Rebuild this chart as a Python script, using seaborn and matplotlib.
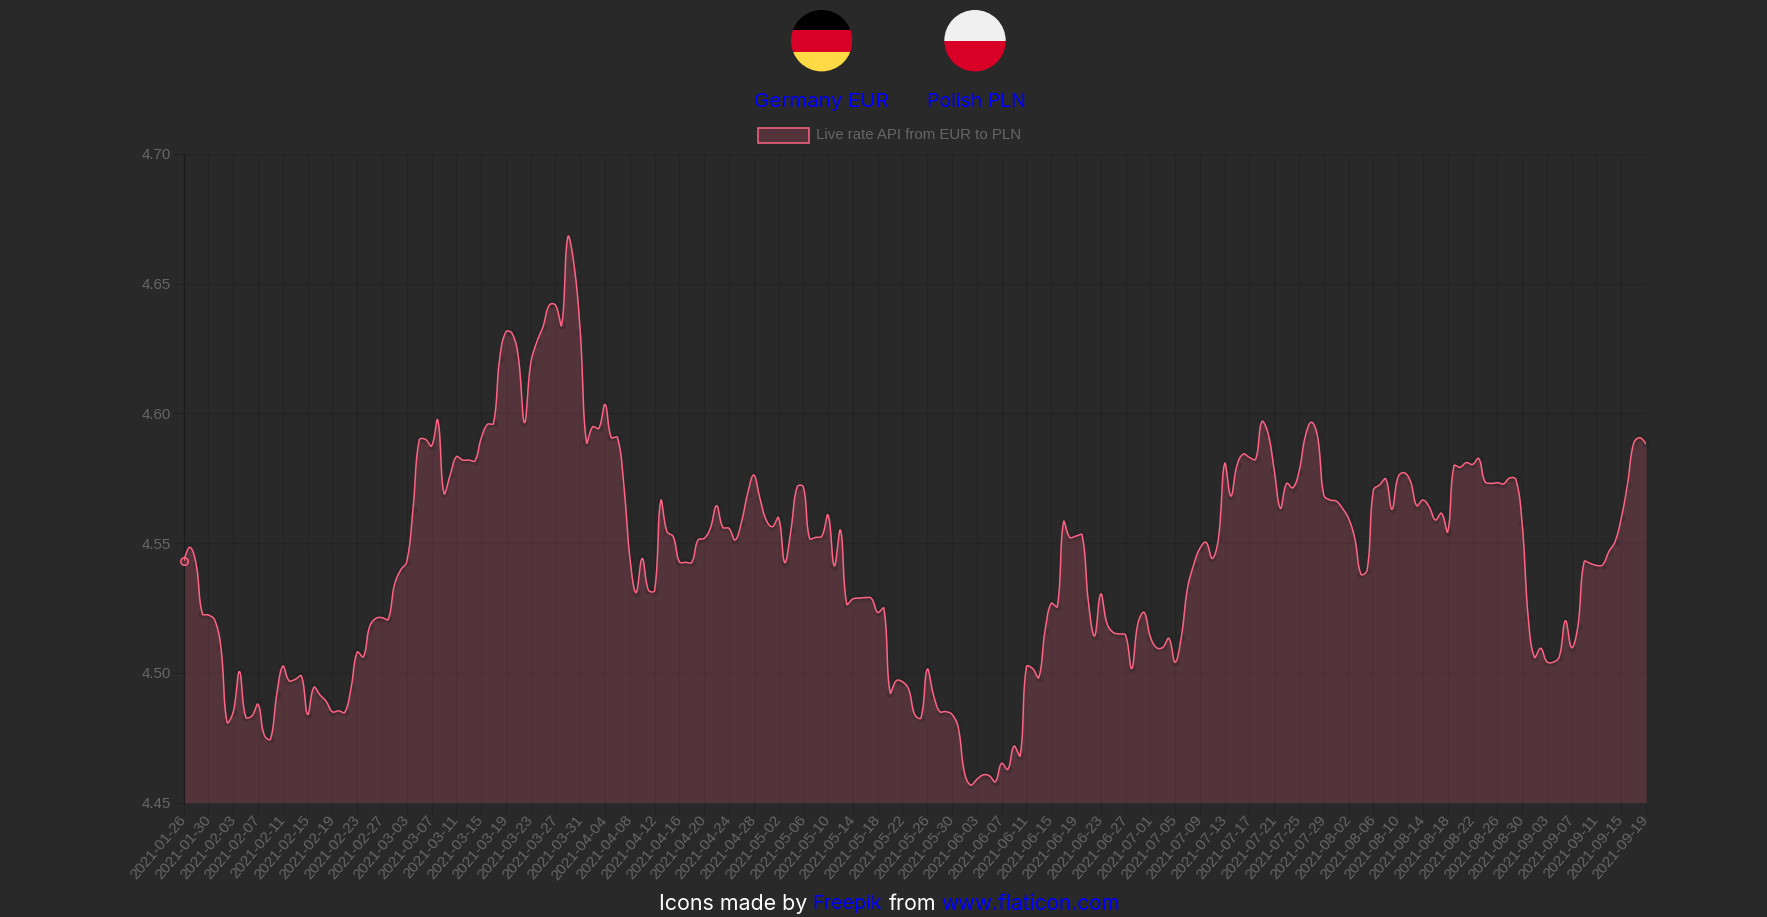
import numpy as np
import pandas as pd
import matplotlib.pyplot as plt
from matplotlib.patches import Circle, Rectangle
from matplotlib.transforms import ScaledTranslation
import seaborn as sns

# daily EUR to PLN rate (2021-01-26 .. 2021-09-19)
rates = [
    4.5431, 4.5484, 4.5420, 4.5228, 4.5223, 4.5204, 4.5100, 4.4810, 4.4850, 4.5005,
    4.4830, 4.4834, 4.4879, 4.4760, 4.4745, 4.4915, 4.5026, 4.4970, 4.4975, 4.4988,
    4.4840, 4.4944, 4.4915, 4.4890, 4.4850, 4.4854, 4.4848, 4.4940, 4.5080, 4.5062,
    4.5178, 4.5210, 4.5213, 4.5206, 4.5338, 4.5396, 4.5428, 4.5627, 4.5897, 4.5900,
    4.5874, 4.5974, 4.5692, 4.5762, 4.5833, 4.5820, 4.5820, 4.5817, 4.5903, 4.5957,
    4.5961, 4.6212, 4.6314, 4.6308, 4.6218, 4.5964, 4.6192, 4.6276, 4.6334, 4.6417,
    4.6417, 4.6340, 4.6680, 4.6571, 4.6314, 4.5888, 4.5948, 4.5942, 4.6034, 4.5907,
    4.5907, 4.5733, 4.5445, 4.5309, 4.5441, 4.5319, 4.5317, 4.5663, 4.5544, 4.5525,
    4.5428, 4.5426, 4.5426, 4.5512, 4.5518, 4.5557, 4.5644, 4.5561, 4.5557, 4.5512,
    4.5579, 4.5689, 4.5762, 4.5672, 4.5589, 4.5563, 4.5598, 4.5425, 4.5550, 4.5717,
    4.5717, 4.5518, 4.5522, 4.5527, 4.5608, 4.5412, 4.5550, 4.5265, 4.5285, 4.5288,
    4.5290, 4.5287, 4.5233, 4.5249, 4.4924, 4.4970, 4.4966, 4.4937, 4.4838, 4.4827,
    4.5014, 4.4915, 4.4851, 4.4851, 4.4840, 4.4790, 4.4616, 4.4568, 4.4590, 4.4607,
    4.4604, 4.4581, 4.4652, 4.4628, 4.4718, 4.4681, 4.5024, 4.5017, 4.4982, 4.5161,
    4.5268, 4.5255, 4.5582, 4.5522, 4.5527, 4.5531, 4.5274, 4.5142, 4.5304, 4.5191,
    4.5156, 4.5150, 4.5146, 4.5017, 4.5191, 4.5233, 4.5139, 4.5097, 4.5098, 4.5133,
    4.5041, 4.5137, 4.5326, 4.5416, 4.5480, 4.5503, 4.5441, 4.5518, 4.5807, 4.5681,
    4.5801, 4.5843, 4.5830, 4.5823, 4.5968, 4.5923, 4.5781, 4.5634, 4.5730, 4.5713,
    4.5775, 4.5910, 4.5966, 4.5910, 4.5685, 4.5666, 4.5662, 4.5634, 4.5595, 4.5518,
    4.5380, 4.5396, 4.5704, 4.5724, 4.5747, 4.5630, 4.5756, 4.5771, 4.5737, 4.5644,
    4.5666, 4.5640, 4.5589, 4.5615, 4.5544, 4.5798, 4.5792, 4.5810, 4.5803, 4.5826,
    4.5737, 4.5730, 4.5733, 4.5728, 4.5751, 4.5745, 4.5579, 4.5210, 4.5060, 4.5095,
    4.5043, 4.5041, 4.5062, 4.5201, 4.5097, 4.5178, 4.5428, 4.5422, 4.5414, 4.5416,
    4.5467, 4.5505, 4.5595, 4.5724, 4.5884, 4.5906, 4.5882,
]

tick_labels = [
    '2021-01-26', '2021-01-30', '2021-02-03', '2021-02-07', '2021-02-11', '2021-02-15',
    '2021-02-19', '2021-02-23', '2021-02-27', '2021-03-03', '2021-03-07', '2021-03-11',
    '2021-03-15', '2021-03-19', '2021-03-23', '2021-03-27', '2021-03-31', '2021-04-04',
    '2021-04-08', '2021-04-12', '2021-04-16', '2021-04-20', '2021-04-24', '2021-04-28',
    '2021-05-02', '2021-05-06', '2021-05-10', '2021-05-14', '2021-05-18', '2021-05-22',
    '2021-05-26', '2021-05-30', '2021-06-03', '2021-06-07', '2021-06-11', '2021-06-15',
    '2021-06-19', '2021-06-23', '2021-06-27', '2021-07-01', '2021-07-05', '2021-07-09',
    '2021-07-13', '2021-07-17', '2021-07-21', '2021-07-25', '2021-07-29', '2021-08-02',
    '2021-08-06', '2021-08-10', '2021-08-14', '2021-08-18', '2021-08-22', '2021-08-26',
    '2021-08-30', '2021-09-03', '2021-09-07', '2021-09-11', '2021-09-15', '2021-09-19',
]

y_ticks = [4.45, 4.50, 4.55, 4.60, 4.65, 4.70]
legend_label = 'Live rate API from EUR to PLN'

BG = '#292929'
PINK = '#ff6384'
GREY = '#666666'
BLUE = '#0000ff'
W, H = 1767, 917
PT = 0.72  # pixels to points at dpi 100


def smooth_curve(x, y, sx, sy, tension=0.4, steps=12):
    # same bezier smoothing as the original chart, distances measured in pixels
    x = np.asarray(x, dtype=float)
    y = np.asarray(y, dtype=float)
    xs, ys = [], []
    n = len(x)
    c1x, c1y, c2x, c2y = np.copy(x), np.copy(y), np.copy(x), np.copy(y)
    for i in range(1, n - 1):
        d01 = np.hypot((x[i] - x[i - 1]) * sx, (y[i] - y[i - 1]) * sy)
        d12 = np.hypot((x[i + 1] - x[i]) * sx, (y[i + 1] - y[i]) * sy)
        tot = d01 + d12 if d01 + d12 > 0 else 1
        fa, fb = tension * d01 / tot, tension * d12 / tot
        c2x[i] = x[i] - fa * (x[i + 1] - x[i - 1])
        c2y[i] = y[i] - fa * (y[i + 1] - y[i - 1])
        c1x[i] = x[i] + fb * (x[i + 1] - x[i - 1])
        c1y[i] = y[i] + fb * (y[i + 1] - y[i - 1])
    t = np.linspace(0, 1, steps, endpoint=False)
    for i in range(n - 1):
        a, b, c, d = (1 - t) ** 3, 3 * t * (1 - t) ** 2, 3 * t ** 2 * (1 - t), t ** 3
        xs.append(a * x[i] + b * c1x[i] + c * c2x[i + 1] + d * x[i + 1])
        ys.append(a * y[i] + b * c1y[i] + c * c2y[i + 1] + d * y[i + 1])
    xs.append([x[-1]])
    ys.append([y[-1]])
    return np.concatenate(xs), np.concatenate(ys)


sns.set_theme(style='dark', rc={'figure.facecolor': BG, 'axes.facecolor': BG, 'savefig.facecolor': BG})
plt.rcParams['font.family'] = ['Liberation Sans', 'DejaVu Sans']

fig = plt.figure(figsize=(W / 100, H / 100), dpi=100)
left, right, top, bottom = 183.7, 1646.0, 153.7, 802.7
ax = fig.add_axes([left / W, 1 - bottom / H, (right - left) / W, (bottom - top) / H])

days = np.arange(len(rates))
sx = (right - left) / days[-1]
sy = (bottom - top) / (y_ticks[-1] - y_ticks[0])
curve_x, curve_y = smooth_curve(days, rates, sx, sy)
curve = pd.DataFrame({'day': curve_x, 'rate': curve_y})
points = pd.DataFrame({'day': days, 'rate': rates})

ax.fill_between(curve['day'], y_ticks[0], curve['rate'], color=PINK, alpha=0.2, lw=0, zorder=2)
sns.scatterplot(data=points, x='day', y='rate', ax=ax, s=(8 * PT) ** 2, color='#1a1a1a', alpha=0.22,
                linewidth=0, zorder=3, clip_on=False)
sns.lineplot(data=curve, x='day', y='rate', ax=ax, estimator=None, sort=False, color=PINK, lw=1.1, zorder=4)
# the first point is the only one drawn as a visible marker
ax.scatter(days[0], rates[0], s=(7.5 * PT) ** 2, facecolor=(1, 0.39, 0.52, 0.2), edgecolor=PINK, lw=1.1,
           zorder=5, clip_on=False)

ax.set_xlim(days[0], days[-1])
ax.set_ylim(y_ticks[0], y_ticks[-1])
ax.set_xticks(days[::4])
ax.set_xticklabels(tick_labels, rotation=50, ha='right', va='top', rotation_mode='anchor')
ax.set_yticks(y_ticks)
ax.set_yticklabels([f'{v:.2f}' for v in y_ticks])
ax.set_xlabel('')
ax.set_ylabel('')
ax.grid(True, color='black', alpha=0.1, lw=0.9)
ax.set_axisbelow(True)
ax.tick_params(axis='x', length=12 * PT, width=0.9, color='#222222', labelcolor=GREY,
               labelsize=15.4 * PT, pad=0, bottom=True)
ax.tick_params(axis='y', length=9 * PT, width=0.9, color='#222222', labelcolor=GREY,
               labelsize=15 * PT, pad=3.7 * PT, left=True)
# labels sit a little to the left of their ticks, as in the original
shift = ScaledTranslation(-5.5 / 100, 1.5 / 100, fig.dpi_scale_trans)
for label in ax.get_xticklabels():
    label.set_transform(label.get_transform() + shift)
for side in ['top', 'right', 'bottom']:
    ax.spines[side].set_visible(False)
ax.spines['left'].set_color('#1c1c1c')
ax.spines['left'].set_linewidth(1.0)

# header and footer, drawn in figure pixel coordinates
overlay = fig.add_axes([0, 0, 1, 1], facecolor='none')
overlay.set_xlim(0, W)
overlay.set_ylim(H, 0)
overlay.axis('off')


def flag(cx, cy, r, stripes):
    clip = Circle((cx, cy), r, transform=overlay.transData, fc='none', ec='none')
    overlay.add_patch(clip)
    for y0, y1, color in stripes:
        bar = Rectangle((cx - r, y0), 2 * r, y1 - y0, fc=color, ec='none')
        overlay.add_patch(bar)
        bar.set_clip_path(clip)


flag(821.7, 40.7, 30.7, [(10, 30, '#000000'), (30, 51.7, '#d80027'), (51.7, 72, '#ffda44')])
flag(975.0, 40.7, 30.7, [(10, 41, '#f0f0f0'), (41, 72, '#d80027')])

head_font = ['Inter', 'DejaVu Sans']
overlay.text(821.7, 102, 'Germany EUR', color=BLUE, fontsize=14.8, family=head_font, ha='center', va='center')
overlay.text(976.0, 102, 'Polish PLN', color=BLUE, fontsize=14.0, family=head_font, ha='center', va='center')

overlay.add_patch(Rectangle((758, 127.5), 51, 15, fc=(1, 0.39, 0.52, 0.2), ec=PINK, lw=1.1))
overlay.text(816, 135, legend_label, color=GREY, fontsize=15 * PT, ha='left', va='center')

foot_y = 904
for x0, txt, col, size in [(659, 'Icons made by', 'white', 15.4), (812.4, 'Freepik', BLUE, 14.2),
                           (889, 'from', 'white', 15.4), (941.7, 'www.flaticon.com', BLUE, 15)]:
    overlay.text(x0, foot_y, txt, color=col, fontsize=size, family=head_font, ha='left', va='center')

fig.savefig('out.png', dpi=100)
